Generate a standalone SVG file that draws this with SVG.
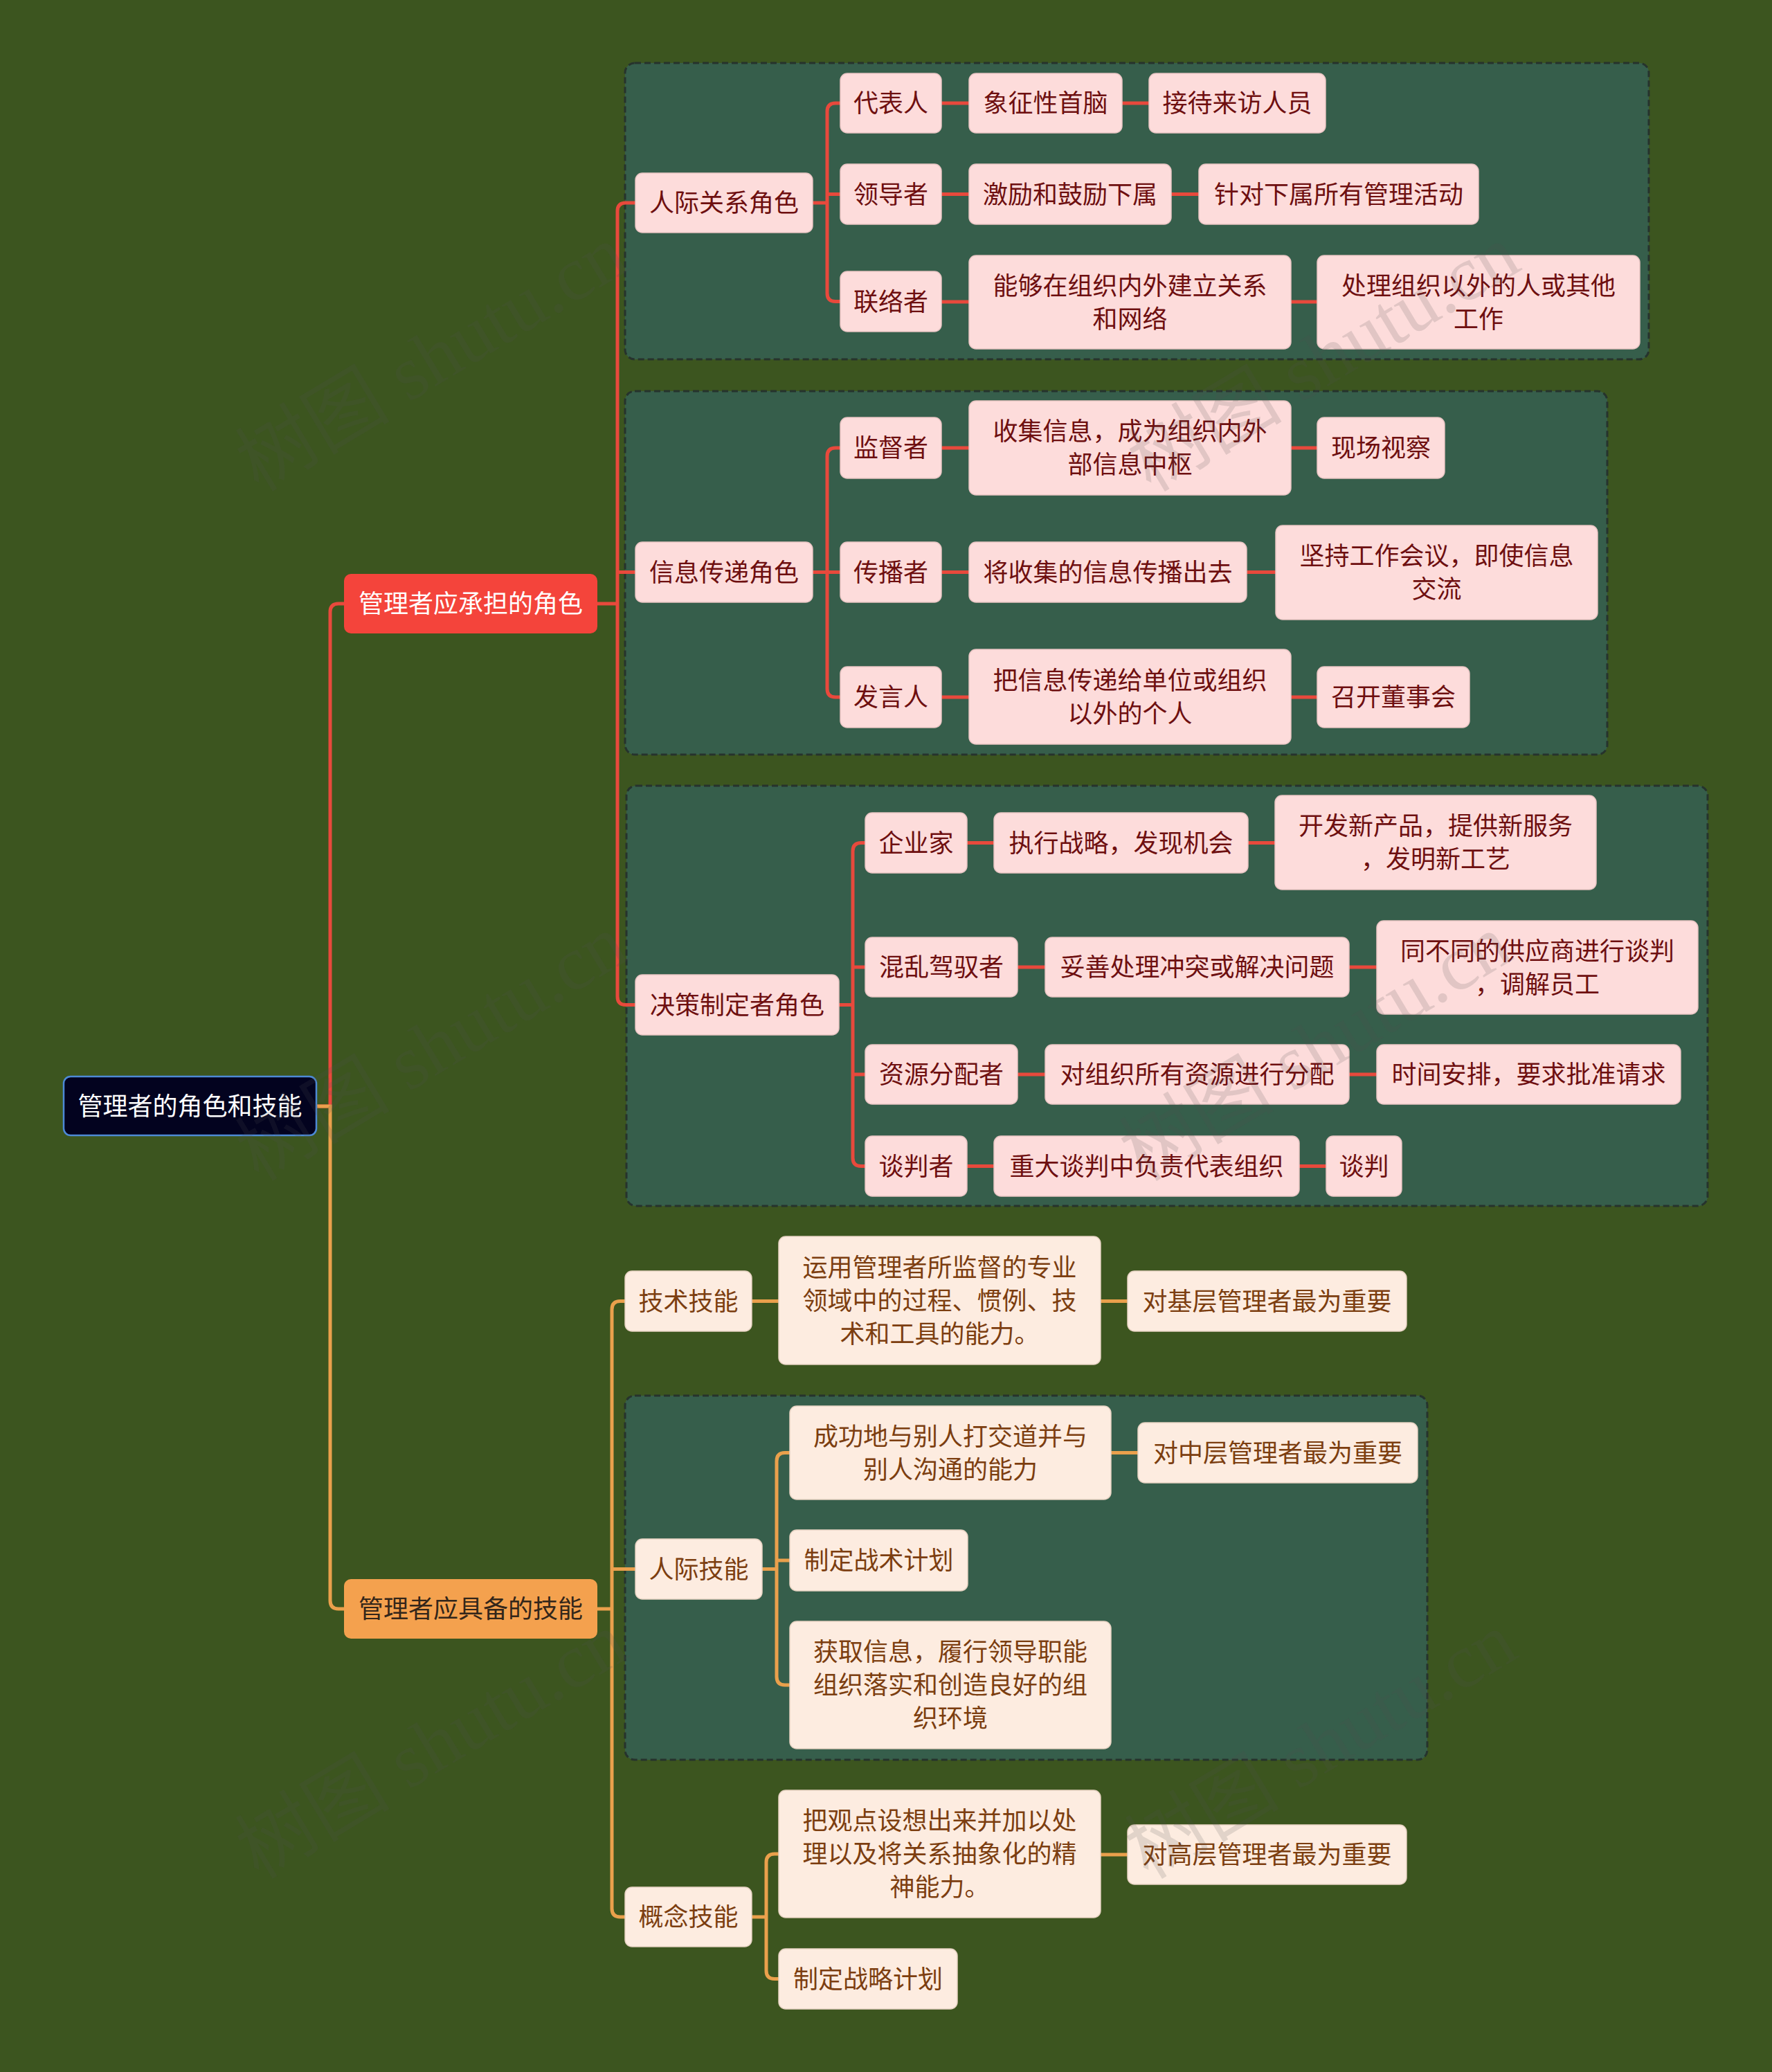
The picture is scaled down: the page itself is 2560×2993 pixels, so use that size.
<svg xmlns="http://www.w3.org/2000/svg" width="2560" height="2993" viewBox="0 0 2560 2993">
<style>
text{font-family:"Noto Sans CJK SC","Liberation Sans",sans-serif;font-size:36px;text-anchor:middle}
.grp{fill:#365e4b;stroke:#26332d;stroke-width:3;stroke-dasharray:9 5}
.pk{fill:#fddcdb;stroke:#e9c5c4;stroke-width:1.5}
.pk+text,.tp{fill:#6e0f10}
.cr{fill:#fdece0;stroke:#e6d2c2;stroke-width:1.5}
.tc{fill:#7c3e10}
.red{fill:none;stroke:#e8493c;stroke-width:5}
.org{fill:none;stroke:#eaa04c;stroke-width:5}
.wm{font-family:"Liberation Serif","Noto Sans CJK SC",serif;font-size:112px;fill:#505050;fill-opacity:0.16}
</style>
<rect width="2560" height="2993" fill="#3c551f"/>
<g id="groups">
<rect class="grp" x="903" y="91" width="1479" height="428" rx="14"/>
<rect class="grp" x="903" y="565" width="1419" height="525" rx="14"/>
<rect class="grp" x="905" y="1135" width="1562" height="607" rx="14"/>
<rect class="grp" x="903" y="2016" width="1159" height="526" rx="14"/>
</g>
<g id="connectors">
<path class="red" d="M457,1598 H477 V884 Q477,872 489,872 H497"/>
<path class="org" d="M457,1598 H477 V2312 Q477,2324 489,2324 H497"/>
<path class="red" d="M863,872 H892 M918,293 H904 Q892,293 892,305 V1439.5 Q892,1451.5 904,1451.5 H918 M892,826.5 H918"/>
<path class="red" d="M1174,293 H1195 M1214,149 H1207 Q1195,149 1195,161 V423.5 Q1195,435.5 1207,435.5 H1214 M1195,280.5 H1214"/>
<path class="red" d="M1174,826.5 H1214 M1214,647 H1207 Q1195,647 1195,659 V995 Q1195,1007 1207,1007 H1214"/>
<path class="red" d="M1212,1451.5 H1232 M1250,1217.5 H1244 Q1232,1217.5 1232,1229.5 V1672.5 Q1232,1684.5 1244,1684.5 H1250 M1232,1397 H1250 M1232,1552 H1250"/>
<path class="red" d="M1360,149 H1400 M1621,149 H1660 M1360,280.5 H1400 M1692,280.5 H1732 M1360,436 H1400 M1865,436 H1903 M1360,647 H1400 M1865,647 H1903 M1360,826.5 H1400 M1801,826.5 H1843 M1360,1007 H1400 M1865,1007 H1903 M1397,1217.5 H1436 M1803,1217.5 H1842 M1470,1397 H1510 M1949,1397 H1989 M1470,1552 H1510 M1949,1552 H1989 M1397,1684.5 H1436 M1877,1684.5 H1916"/>
<path class="org" d="M863,2324 H884 M903,1879.5 H896 Q884,1879.5 884,1891.5 V2757 Q884,2769 896,2769 H903 M884,2266.5 H918"/>
<path class="org" d="M1086,1879.5 H1125 M1590,1879.5 H1629"/>
<path class="org" d="M1101,2266.5 H1122 M1141,2098.5 H1134 Q1122,2098.5 1122,2110.5 V2422 Q1122,2434 1134,2434 H1141 M1122,2254 H1141 M1605,2098.5 H1644"/>
<path class="org" d="M1086,2769 H1107 M1125,2678 H1119 Q1107,2678 1107,2690 V2846.5 Q1107,2858.5 1119,2858.5 H1125 M1590,2679 H1629"/>
</g>
<g id="root"><rect x="92" y="1555" width="365" height="85" rx="10" fill="#03031f" stroke="#4d8ad6" stroke-width="2.5"/><text x="274.5" y="1611" fill="#ffffff">管理者的角色和技能</text></g>
<g id="b1"><rect x="497" y="829" width="366" height="86" rx="10" fill="#f4443b"/><text x="680" y="885" fill="#ffffff">管理者应承担的角色</text></g>
<g id="b2"><rect x="497" y="2281" width="366" height="86" rx="10" fill="#f4a14e"/><text x="680" y="2337" fill="#33261a">管理者应具备的技能</text></g>

<g id="n1"><rect class="pk" x="918" y="250" width="256" height="86" rx="10"/><text class="tp" x="1046" y="306">人际关系角色</text></g>
<g id="n2"><rect class="pk" x="1214" y="106" width="146" height="86" rx="10"/><text class="tp" x="1287" y="162">代表人</text></g>
<g id="n3"><rect class="pk" x="1400" y="106" width="221" height="86" rx="10"/><text class="tp" x="1510.5" y="162">象征性首脑</text></g>
<g id="n4"><rect class="pk" x="1660" y="106" width="255" height="86" rx="10"/><text class="tp" x="1787.5" y="162">接待来访人员</text></g>
<g id="n5"><rect class="pk" x="1214" y="237" width="146" height="87" rx="10"/><text class="tp" x="1287" y="293.5">领导者</text></g>
<g id="n6"><rect class="pk" x="1400" y="237" width="292" height="87" rx="10"/><text class="tp" x="1546" y="293.5">激励和鼓励下属</text></g>
<g id="n7"><rect class="pk" x="1732" y="237" width="404" height="87" rx="10"/><text class="tp" x="1934" y="293.5">针对下属所有管理活动</text></g>
<g id="n8"><rect class="pk" x="1214" y="392" width="146" height="87" rx="10"/><text class="tp" x="1287" y="448.5">联络者</text></g>
<g id="n9"><rect class="pk" x="1400" y="369" width="465" height="135" rx="10"/><text class="tp" x="1632.5" y="425.5">能够在组织内外建立关系</text><text class="tp" x="1632.5" y="473.5">和网络</text></g>
<g id="n10"><rect class="pk" x="1903" y="369" width="466" height="135" rx="10"/><text class="tp" x="2136" y="425.5">处理组织以外的人或其他</text><text class="tp" x="2136" y="473.5">工作</text></g>

<g id="n11"><rect class="pk" x="918" y="783" width="256" height="87" rx="10"/><text class="tp" x="1046" y="839.5">信息传递角色</text></g>
<g id="n12"><rect class="pk" x="1214" y="603" width="146" height="88" rx="10"/><text class="tp" x="1287" y="660">监督者</text></g>
<g id="n13"><rect class="pk" x="1400" y="579" width="465" height="136" rx="10"/><text class="tp" x="1632.5" y="636">收集信息，成为组织内外</text><text class="tp" x="1632.5" y="684">部信息中枢</text></g>
<g id="n14"><rect class="pk" x="1903" y="603" width="184" height="88" rx="10"/><text class="tp" x="1995" y="660">现场视察</text></g>
<g id="n15"><rect class="pk" x="1214" y="783" width="146" height="87" rx="10"/><text class="tp" x="1287" y="839.5">传播者</text></g>
<g id="n16"><rect class="pk" x="1400" y="783" width="401" height="87" rx="10"/><text class="tp" x="1600.5" y="839.5">将收集的信息传播出去</text></g>
<g id="n17"><rect class="pk" x="1843" y="759" width="465" height="136" rx="10"/><text class="tp" x="2075.5" y="816">坚持工作会议，即使信息</text><text class="tp" x="2075.5" y="864">交流</text></g>
<g id="n18"><rect class="pk" x="1214" y="963" width="146" height="88" rx="10"/><text class="tp" x="1287" y="1020">发言人</text></g>
<g id="n19"><rect class="pk" x="1400" y="938" width="465" height="137" rx="10"/><text class="tp" x="1632.5" y="995.5">把信息传递给单位或组织</text><text class="tp" x="1632.5" y="1043.5">以外的个人</text></g>
<g id="n20"><rect class="pk" x="1903" y="963" width="220" height="88" rx="10"/><text class="tp" x="2013" y="1020">召开董事会</text></g>

<g id="n21"><rect class="pk" x="918" y="1408" width="294" height="87" rx="10"/><text class="tp" x="1065" y="1464.5">决策制定者角色</text></g>
<g id="n22"><rect class="pk" x="1250" y="1174" width="147" height="87" rx="10"/><text class="tp" x="1323.5" y="1230.5">企业家</text></g>
<g id="n23"><rect class="pk" x="1436" y="1174" width="367" height="87" rx="10"/><text class="tp" x="1619.5" y="1230.5">执行战略，发现机会</text></g>
<g id="n24"><rect class="pk" x="1842" y="1149" width="464" height="136" rx="10"/><text class="tp" x="2074" y="1206">开发新产品，提供新服务</text><text class="tp" x="2074" y="1254">，发明新工艺</text></g>
<g id="n25"><rect class="pk" x="1250" y="1354" width="220" height="86" rx="10"/><text class="tp" x="1360" y="1410">混乱驾驭者</text></g>
<g id="n26"><rect class="pk" x="1510" y="1354" width="439" height="86" rx="10"/><text class="tp" x="1729.5" y="1410">妥善处理冲突或解决问题</text></g>
<g id="n27"><rect class="pk" x="1989" y="1330" width="464" height="135" rx="10"/><text class="tp" x="2221" y="1386.5">同不同的供应商进行谈判</text><text class="tp" x="2221" y="1434.5">，调解员工</text></g>
<g id="n28"><rect class="pk" x="1250" y="1509" width="220" height="86" rx="10"/><text class="tp" x="1360" y="1565">资源分配者</text></g>
<g id="n29"><rect class="pk" x="1510" y="1509" width="439" height="86" rx="10"/><text class="tp" x="1729.5" y="1565">对组织所有资源进行分配</text></g>
<g id="n30"><rect class="pk" x="1989" y="1509" width="439" height="86" rx="10"/><text class="tp" x="2208.5" y="1565">时间安排，要求批准请求</text></g>
<g id="n31"><rect class="pk" x="1250" y="1641" width="147" height="87" rx="10"/><text class="tp" x="1323.5" y="1697.5">谈判者</text></g>
<g id="n32"><rect class="pk" x="1436" y="1641" width="441" height="87" rx="10"/><text class="tp" x="1656.5" y="1697.5">重大谈判中负责代表组织</text></g>
<g id="n33"><rect class="pk" x="1916" y="1641" width="109" height="87" rx="10"/><text class="tp" x="1970.5" y="1697.5">谈判</text></g>

<g id="s1"><rect class="cr" x="903" y="1836" width="183" height="87" rx="10"/><text class="tc" x="994.5" y="1892.5">技术技能</text></g>
<g id="s2"><rect class="cr" x="1125" y="1786" width="465" height="185" rx="10"/><text class="tc" x="1357.5" y="1843.5">运用管理者所监督的专业</text><text class="tc" x="1357.5" y="1891.5">领域中的过程、惯例、技</text><text class="tc" x="1357.5" y="1939.5">术和工具的能力。</text></g>
<g id="s3"><rect class="cr" x="1629" y="1836" width="403" height="87" rx="10"/><text class="tc" x="1830.5" y="1892.5">对基层管理者最为重要</text></g>
<g id="s4"><rect class="cr" x="918" y="2223" width="183" height="87" rx="10"/><text class="tc" x="1009.5" y="2279.5">人际技能</text></g>
<g id="s5"><rect class="cr" x="1141" y="2031" width="464" height="135" rx="10"/><text class="tc" x="1373" y="2087.5">成功地与别人打交道并与</text><text class="tc" x="1373" y="2135.5">别人沟通的能力</text></g>
<g id="s6"><rect class="cr" x="1644" y="2055" width="404" height="87" rx="10"/><text class="tc" x="1846" y="2111.5">对中层管理者最为重要</text></g>
<g id="s7"><rect class="cr" x="1141" y="2210" width="257" height="88" rx="10"/><text class="tc" x="1269.5" y="2267">制定战术计划</text></g>
<g id="s8"><rect class="cr" x="1141" y="2342" width="464" height="184" rx="10"/><text class="tc" x="1373" y="2399">获取信息，履行领导职能</text><text class="tc" x="1373" y="2447">组织落实和创造良好的组</text><text class="tc" x="1373" y="2495">织环境</text></g>
<g id="s9"><rect class="cr" x="903" y="2726" width="183" height="86" rx="10"/><text class="tc" x="994.5" y="2782">概念技能</text></g>
<g id="s10"><rect class="cr" x="1125" y="2586" width="465" height="184" rx="10"/><text class="tc" x="1357.5" y="2643">把观点设想出来并加以处</text><text class="tc" x="1357.5" y="2691">理以及将关系抽象化的精</text><text class="tc" x="1357.5" y="2739">神能力。</text></g>
<g id="s11"><rect class="cr" x="1629" y="2636" width="403" height="86" rx="10"/><text class="tc" x="1830.5" y="2692">对高层管理者最为重要</text></g>
<g id="s12"><rect class="cr" x="1125" y="2815" width="258" height="87" rx="10"/><text class="tc" x="1254" y="2871.5">制定战略计划</text></g>

<g id="watermarks">
<text class="wm" transform="translate(643,550) rotate(-31)">树图 shutu.cn</text>
<text class="wm" transform="translate(643,1546) rotate(-31)">树图 shutu.cn</text>
<text class="wm" transform="translate(1932,550) rotate(-31)">树图 shutu.cn</text>
<text class="wm" transform="translate(1920,1546) rotate(-31)">树图 shutu.cn</text>
<text class="wm" transform="translate(643,2554) rotate(-31)">树图 shutu.cn</text>
<text class="wm" transform="translate(1928,2554) rotate(-31)">树图 shutu.cn</text>
</g>
</svg>
